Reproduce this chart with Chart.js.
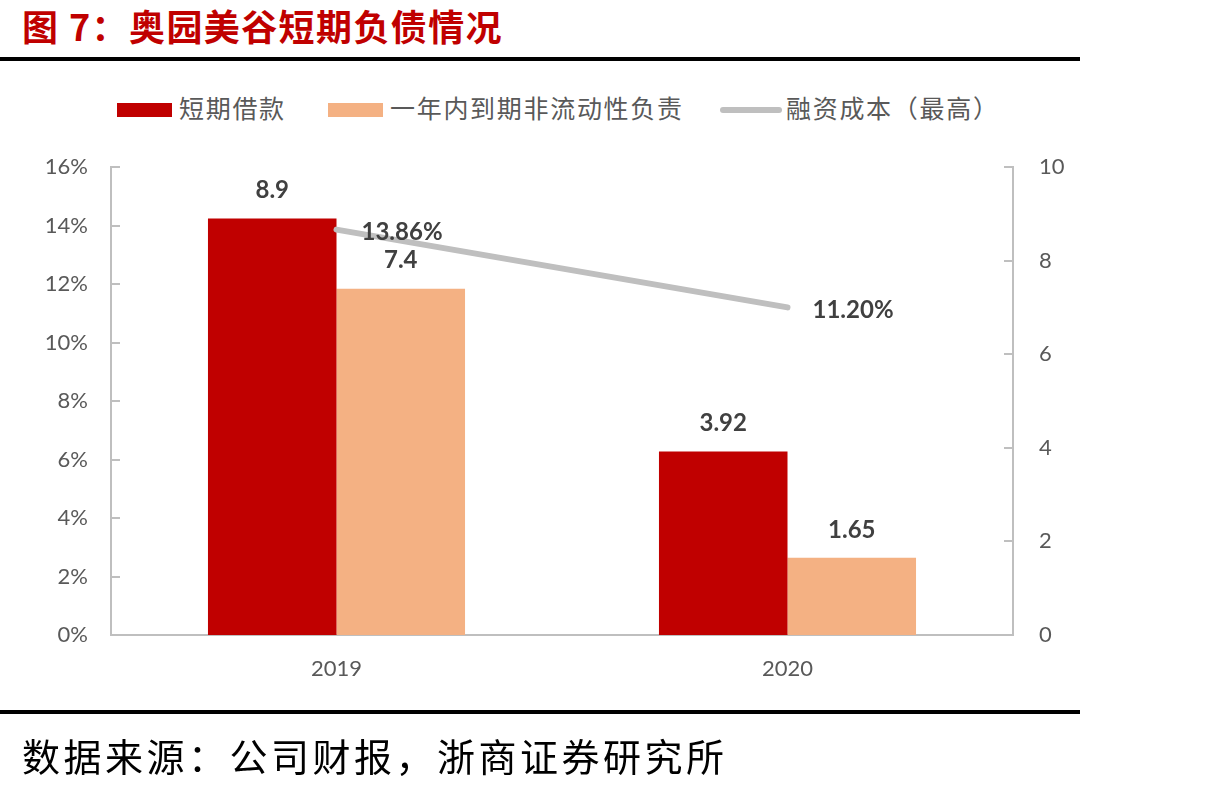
<!DOCTYPE html>
<html>
<head>
<meta charset="utf-8">
<script src="https://cdn.jsdelivr.net/npm/chart.js@4.4.0/dist/chart.umd.min.js"></script>
<style>
  html, body { margin: 0; padding: 0; background: #fff; }
  body { width: 1212px; height: 789px; position: relative; overflow: hidden; font-family: Lato, "Noto Sans CJK SC", sans-serif; }
  #c { position: absolute; left: 0; top: 0; }
  .title { position: absolute; left: 22px; top: 3px; font-size: 36px; font-weight: bold; color: #C00000; font-family: "Noto Sans CJK SC", sans-serif; line-height: 44px; white-space: nowrap; letter-spacing: 1.4px; }
  .rule { position: absolute; left: 0; width: 1080px; height: 4px; background: #000; }
  .source { position: absolute; left: 22px; top: 730px; font-size: 38px; letter-spacing: 3.5px; color: #000; font-family: "Noto Sans CJK SC", sans-serif; line-height: 50px; white-space: nowrap; }
  .leg { position: absolute; top: 91px; height: 32px; display: flex; align-items: center; font-size: 25px; color: #595959; font-family: "Noto Sans CJK SC", sans-serif; white-space: nowrap; letter-spacing: 1.7px; }
  .sw { position: absolute; }
</style>
</head>
<body>
<div class="title">图 7：奥园美谷短期负债情况</div>
<div class="rule" style="top:57px"></div>

<div class="sw" style="left:117px; top:103px; width:55px; height:14px; background:#C00000"></div>
<div class="leg" style="left:179px">短期借款</div>
<div class="sw" style="left:328px; top:103px; width:55px; height:14px; background:#F4B183"></div>
<div class="leg" style="left:390px">一年内到期非流动性负责</div>
<div class="sw" style="left:720px; top:107px; width:62px; height:6px; border-radius:3px; background:#BFBFBF"></div>
<div class="leg" style="left:786px">融资成本（最高）</div>

<canvas id="c" width="1212" height="789"></canvas>

<div class="rule" style="top:710px"></div>
<div class="source">数据来源：公司财报，浙商证券研究所</div>

<script>
const categories = ['2019', '2020'];
const shortLoans = [8.9, 3.92];
const currentNonCurrent = [7.4, 1.65];
const financingCost = [13.86, 11.20];
const leftTicks = [0, 2, 4, 6, 8, 10, 12, 14, 16];
const rightTicks = [0, 2, 4, 6, 8, 10];

const TICK_COLOR = '#595959';
const AXIS_COLOR = '#BFBFBF';

const labelPlugin = {
  id: 'labels',
  afterDatasetsDraw(chart) {
    const ctx = chart.ctx;
    ctx.save();
    ctx.fillStyle = '#404040';
    ctx.font = 'bold 24px Lato, "Noto Sans CJK SC", sans-serif';
    chart.data.datasets.forEach((ds, di) => {
      const meta = chart.getDatasetMeta(di);
      meta.data.forEach((el, i) => {
        const v = ds.data[i];
        if (ds.type === 'line') {
          ctx.textAlign = 'left';
          ctx.textBaseline = 'middle';
          ctx.fillText(v.toFixed(2) + '%', el.x + 25, el.y + 3);
        } else {
          ctx.textAlign = 'center';
          ctx.textBaseline = 'middle';
          ctx.fillText(String(v), el.x, el.y - 28);
        }
      });
    });
    ctx.restore();
  },
  afterDraw(chart) {
    const ctx = chart.ctx;
    const ca = chart.chartArea;
    ctx.save();
    ctx.strokeStyle = AXIS_COLOR;
    ctx.lineWidth = 2;
    const ys = chart.scales.y, y1 = chart.scales.y1;
    ys.ticks.forEach(t => {
      const p = Math.round(ys.getPixelForValue(t.value));
      ctx.beginPath(); ctx.moveTo(ca.left, p); ctx.lineTo(ca.left + 9, p); ctx.stroke();
    });
    y1.ticks.forEach(t => {
      const p = Math.round(y1.getPixelForValue(t.value));
      ctx.beginPath(); ctx.moveTo(ca.right - 9, p); ctx.lineTo(ca.right, p); ctx.stroke();
    });
    ctx.restore();
  }
};

new Chart(document.getElementById('c'), {
  type: 'bar',
  data: {
    labels: categories,
    datasets: [
      {
        type: 'line',
        label: '融资成本（最高）',
        data: financingCost,
        yAxisID: 'y',
        borderColor: '#BFBFBF',
        borderWidth: 6,
        borderCapStyle: 'round',
        pointRadius: 0,
        fill: false,
        order: 0
      },
      {
        label: '短期借款',
        data: shortLoans,
        yAxisID: 'y1',
        backgroundColor: '#C00000',
        categoryPercentage: 0.57,
        barPercentage: 1.0,
        order: 1
      },
      {
        label: '一年内到期非流动性负责',
        data: currentNonCurrent,
        yAxisID: 'y1',
        backgroundColor: '#F4B183',
        categoryPercentage: 0.57,
        barPercentage: 1.0,
        order: 1
      }
    ]
  },
  options: {
    responsive: false,
    animation: false,
    layout: { padding: { top: 167, bottom: 0, left: 0, right: 0 } },
    plugins: { legend: { display: false }, tooltip: { enabled: false } },
    scales: {
      x: {
        grid: { display: false, drawTicks: false },
        border: { display: true, color: AXIS_COLOR, width: 2 },
        ticks: { color: TICK_COLOR, font: { size: 22, family: 'Lato' }, padding: 21 },
        afterFit(s) { s.height = 154; }
      },
      y: {
        position: 'left',
        min: 0, max: 16,
        afterBuildTicks(s) { s.ticks = leftTicks.map(v => ({ value: v })); },
        grid: { display: false, drawTicks: false },
        border: { display: true, color: AXIS_COLOR, width: 2 },
        ticks: { color: TICK_COLOR, font: { size: 22, family: 'Lato' }, padding: 23, callback: v => v + '%' },
        afterFit(s) { s.width = 111; }
      },
      y1: {
        position: 'right',
        min: 0, max: 10,
        afterBuildTicks(s) { s.ticks = rightTicks.map(v => ({ value: v })); },
        grid: { display: false, drawTicks: false },
        border: { display: true, color: AXIS_COLOR, width: 2 },
        ticks: { color: TICK_COLOR, font: { size: 22, family: 'Lato' }, padding: 26 },
        afterFit(s) { s.width = 199; }
      }
    }
  },
  plugins: [labelPlugin]
});
</script>
</body>
</html>
